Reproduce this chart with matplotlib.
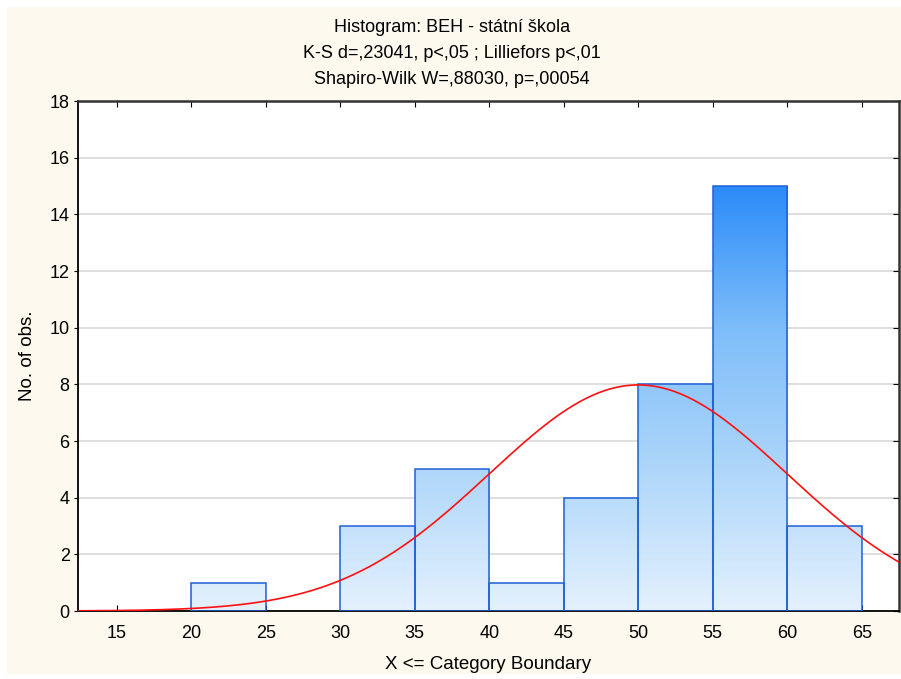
import numpy as np
import matplotlib
matplotlib.use("Agg")
import matplotlib.pyplot as plt
from matplotlib.patches import Rectangle
from matplotlib.colors import LinearSegmentedColormap

plt.rcParams['font.family'] = ['Liberation Sans', 'DejaVu Sans']

# Histogram data: category lower edges and counts
bin_left = [20, 30, 35, 40, 45, 50, 55, 60]
bin_width = 5
counts = [1, 3, 5, 1, 4, 8, 15, 3]

# Fitted normal curve parameters
n_obs = 40
fit_mean = 50.0
fit_sd = 10.0

x_ticks = [15, 20, 25, 30, 35, 40, 45, 50, 55, 60, 65]
y_ticks = [0, 2, 4, 6, 8, 10, 12, 14, 16, 18]

title_lines = ["Histogram: BEH - státní škola",
               "K-S d=,23041, p<,05 ; Lilliefors p<,01",
               "Shapiro-Wilk W=,88030, p=,00054"]

W, H = 901, 679
fig = plt.figure(figsize=(W / 100, H / 100), dpi=100)
fig.patch.set_facecolor("white")

# cream panel behind everything
fig.add_artist(Rectangle((7 / W, 5 / H), 1 - 7 / W, 1 - 12 / H,
                         transform=fig.transFigure, facecolor="#fdf9ee",
                         edgecolor="none", zorder=-10))

ax = fig.add_axes([78 / W, (H - 611) / H, (899 - 78) / W, (611 - 101) / H])
ax.set_facecolor("white")
ax.set_xlim(12.4, 67.5)
ax.set_ylim(0, 18)

ax.yaxis.grid(True, color="#d8d8d8", linewidth=1.2)
ax.set_axisbelow(True)

# gradient fill for the bars
cmap = LinearSegmentedColormap.from_list("bluegrad", ["#e4f1fd", "#aed6fa", "#7dbdf9", "#2b8bf8"])
grad = np.linspace(0, 1, 256).reshape(-1, 1)
ymax_grad = max(counts)
for x0, c in zip(bin_left, counts):
    im = ax.imshow(grad, extent=[x0, x0 + bin_width, 0, ymax_grad], origin="lower",
                   cmap=cmap, aspect="auto", zorder=2, interpolation="bilinear")
    rect = Rectangle((x0, 0), bin_width, c, facecolor="none",
                     edgecolor="#1f5fd6", linewidth=1.1, zorder=3)
    ax.add_patch(rect)
    im.set_clip_path(rect)

# normal curve scaled to the histogram
xs = np.linspace(12.4, 67.5, 400)
ys = n_obs * bin_width / (fit_sd * np.sqrt(2 * np.pi)) * np.exp(-0.5 * ((xs - fit_mean) / fit_sd) ** 2)
ax.plot(xs, ys, color="#ff1010", linewidth=1.2, zorder=4, clip_on=True)

ax.set_xticks(x_ticks)
ax.set_yticks(y_ticks)
ax.tick_params(axis="x", direction="in", length=4, top=True, labelsize=13,
               pad=10, colors="black")
ax.tick_params(axis="y", direction="out", length=3, labelsize=13, pad=3)
ax.tick_params(axis="y", which="both", right=True)
# right side ticks point inward
for t in ax.yaxis.get_major_ticks():
    t.tick2line.set_marker(matplotlib.lines.TICKLEFT)
    t.tick2line.set_markersize(4)

for side in ["left", "bottom"]:
    ax.spines[side].set_color("black")
    ax.spines[side].set_linewidth(1.3)
for side in ["top", "right"]:
    ax.spines[side].set_color("#333333")
    ax.spines[side].set_linewidth(1.8)

ax.set_xlabel("X <= Category Boundary", fontsize=13.5, labelpad=10)
ax.set_ylabel("No. of obs.", fontsize=13.5, labelpad=10)

for i, line in enumerate(title_lines):
    fig.text(452 / W, 1 - (27 + 26 * i) / H, line, ha="center", va="center", fontsize=13)

fig.savefig("out.png", dpi=100, facecolor=fig.get_facecolor())
